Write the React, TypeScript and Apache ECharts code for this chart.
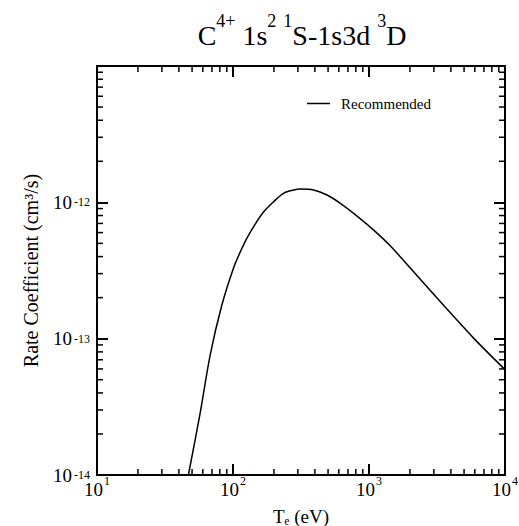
import React, { useEffect, useRef } from 'react';
import * as echarts from 'echarts';

const temperatures = [47.0, 57.35, 67.94, 82.83, 100.9, 113.0, 126.6, 145.7, 167.7, 198.7, 235.4, 279.0, 312.4, 391.4, 491.3, 615.6, 817.2, 1083, 1438, 2678, 5902, 10000];
const rateCoefficients = [1.0e-14, 2.845e-14, 7.58e-14, 1.764e-13, 3.296e-13, 4.319e-13, 5.47e-13, 6.93e-13, 8.49e-13, 1.010e-12, 1.164e-12, 1.231e-12, 1.252e-12, 1.231e-12, 1.131e-12, 9.83e-13, 7.93e-13, 6.26e-13, 4.78e-13, 2.39e-13, 1.005e-13, 5.93e-14];
const xDecades = [10, 100, 1000];
const yDecades = [1e-14, 1e-13, 1e-12];
const mantissas = [2, 3, 4, 5, 6, 7, 8, 9];
const xRange = [10, 10000];
const yRange = [1e-14, 1e-11];
const seriesName = 'Recommended';
const titleParts: [string, 'm' | 's' | 'gap'][] = [
  ['C', 'm'], ['4+', 's'], [' ', 'gap'], ['1s', 'm'], ['2', 's'], [' ', 'gap'], ['1', 's'],
  ['S-1s3d', 'm'], [' ', 'gap'], ['3', 's'], ['D', 'm'],
];

const FONT = 'Liberation Serif';

export default function App() {
  const ref = useRef<HTMLDivElement>(null);
  useEffect(() => {
    if (!ref.current) return;
    const chart = echarts.init(ref.current, undefined, { renderer: 'svg' });

    const xMinor: number[][] = [];
    xDecades.forEach((d) => mantissas.forEach((m) => xMinor.push([d * m, yRange[0]])));
    const yMinor: number[][] = [];
    yDecades.forEach((d) => mantissas.forEach((m) => yMinor.push([xRange[0], d * m])));

    const exponent = (v: number) => Math.round(Math.log10(v));

    // title layout
    const ctx = document.createElement('canvas').getContext('2d')!;
    const MAIN = 28;
    const SUP = 18;
    const measure = (t: string, size: number) => {
      ctx.font = `${size}px "${FONT}"`;
      return ctx.measureText(t).width;
    };
    const widths = titleParts.map(([t, k]) => measure(t, k === 's' ? SUP : MAIN));
    const total = widths.reduce((a, b) => a + b, 0);
    let cx = 302 - total / 2;
    const titleChildren: any[] = [];
    titleParts.forEach(([t, k], i) => {
      if (k !== 'gap') {
        titleChildren.push({
          type: 'text',
          x: cx,
          y: k === 's' ? 21 : 35.5,
          style: {
            text: t,
            fontFamily: FONT,
            fontSize: k === 's' ? SUP : MAIN,
            fill: '#000',
            align: 'left',
            verticalAlign: 'middle',
          },
        });
      }
      cx += widths[i];
    });

    const minorLen = 6;

    const axisCommon = {
      type: 'log' as const,
      logBase: 10,
      axisLine: { show: true, lineStyle: { color: '#000', width: 2 } },
      axisTick: { show: true, inside: true, length: 11, lineStyle: { color: '#000', width: 2 } },
      splitLine: { show: false },
    };
    const hiddenAxis = {
      type: 'log' as const,
      logBase: 10,
      axisLine: { show: false },
      axisTick: { show: false },
      splitLine: { show: false },
    };

    const option: any = {
      animation: false,
      backgroundColor: '#fff',
      textStyle: { fontFamily: FONT, color: '#000' },
      grid: { left: 97, top: 66, right: 14, bottom: 51, containLabel: false, outerBoundsMode: 'none' },
      graphic: [{ type: 'group', children: titleChildren }],
      legend: {
        data: [{ name: seriesName, icon: 'rect' }],
        left: 307,
        top: 96,
        itemWidth: 23,
        itemHeight: 1.5,
        padding: 0,
        textStyle: { fontFamily: FONT, fontSize: 15, color: '#000', padding: [0, 0, 0, 6] },
      },
      xAxis: [
        {
          ...axisCommon,
          position: 'bottom',
          min: xRange[0],
          max: xRange[1],
          name: 'T\u2091 (eV)',
          nameLocation: 'middle',
          nameGap: 31,
          nameTextStyle: { fontFamily: FONT, fontSize: 19, lineHeight: 20, color: '#000' },
          axisLabel: {
            show: true,
            margin: 4.5,
            showMinLabel: true,
            showMaxLabel: true,
            fontFamily: FONT,
            fontSize: 19,
            color: '#000',
            padding: [0, 7, 0, 0],
            formatter: () => '10',
          },
        },
        {
          ...axisCommon,
          position: 'top',
          min: xRange[0],
          max: xRange[1],
          axisLabel: { show: false },
        },
        {
          ...hiddenAxis,
          position: 'bottom',
          min: xRange[0],
          max: xRange[1],
          axisLabel: {
            show: true,
            margin: 0,
            showMinLabel: true,
            showMaxLabel: true,
            fontFamily: FONT,
            fontSize: 12,
            color: '#000',
            padding: [0, 0, 0, 20],
            formatter: (v: number) => String(exponent(v)),
          },
        },
      ],
      yAxis: [
        {
          ...axisCommon,
          position: 'left',
          min: yRange[0],
          max: yRange[1],
          name: 'Rate Coefficient (cm\u00B3/s)',
          nameLocation: 'middle',
          nameGap: 51,
          nameTextStyle: { fontFamily: FONT, fontSize: 20, lineHeight: 22, color: '#000' },
          axisLabel: {
            show: true,
            margin: 25,
            showMinLabel: true,
            showMaxLabel: true,
            fontFamily: FONT,
            fontSize: 19,
            color: '#000',
            padding: [5, 0, 0, 0],
            formatter: (v: number) => (exponent(v) >= -11 ? '' : '10'),
          },
        },
        {
          ...axisCommon,
          position: 'right',
          min: yRange[0],
          max: yRange[1],
          axisLabel: { show: false },
        },
        {
          ...hiddenAxis,
          position: 'left',
          min: yRange[0],
          max: yRange[1],
          axisLabel: {
            show: true,
            margin: 7,
            showMinLabel: true,
            showMaxLabel: true,
            fontFamily: FONT,
            fontSize: 12,
            color: '#000',
            padding: [0, 0, 12, 0],
            formatter: (v: number) => (exponent(v) >= -11 ? '' : String(exponent(v))),
          },
        },
      ],
      series: [
        {
          name: seriesName,
          type: 'line',
          xAxisIndex: 0,
          yAxisIndex: 0,
          data: temperatures.map((t, i) => [t, rateCoefficients[i]]),
          symbol: 'none',
          smooth: 0.3,
          lineStyle: { color: '#000', width: 1.5 },
          itemStyle: { color: '#000' },
          clip: true,
        },
        {
          type: 'custom',
          silent: true,
          xAxisIndex: 0,
          yAxisIndex: 0,
          data: xMinor,
          renderItem: (params: any, api: any) => {
            const cs = params.coordSys;
            const p = api.coord([api.value(0), api.value(1)]);
            const x = p[0];
            const yb = cs.y + cs.height;
            const yt = cs.y;
            const st = { stroke: '#000', lineWidth: 1.5 };
            return {
              type: 'group',
              children: [
                { type: 'line', shape: { x1: x, y1: yb, x2: x, y2: yb - minorLen }, style: st },
                { type: 'line', shape: { x1: x, y1: yt, x2: x, y2: yt + minorLen }, style: st },
              ],
            };
          },
        },
        {
          type: 'custom',
          silent: true,
          xAxisIndex: 0,
          yAxisIndex: 0,
          data: yMinor,
          renderItem: (params: any, api: any) => {
            const cs = params.coordSys;
            const p = api.coord([api.value(0), api.value(1)]);
            const y = p[1];
            const xl = cs.x;
            const xr = cs.x + cs.width;
            const st = { stroke: '#000', lineWidth: 1.5 };
            return {
              type: 'group',
              children: [
                { type: 'line', shape: { x1: xl, y1: y, x2: xl + minorLen, y2: y }, style: st },
                { type: 'line', shape: { x1: xr, y1: y, x2: xr - minorLen, y2: y }, style: st },
              ],
            };
          },
        },
      ],
    };

    chart.setOption(option);
    return () => chart.dispose();
  }, []);

  return <div ref={ref} style={{ width: 519, height: 526, position: 'absolute', left: 0, top: 0 }} />;
}
